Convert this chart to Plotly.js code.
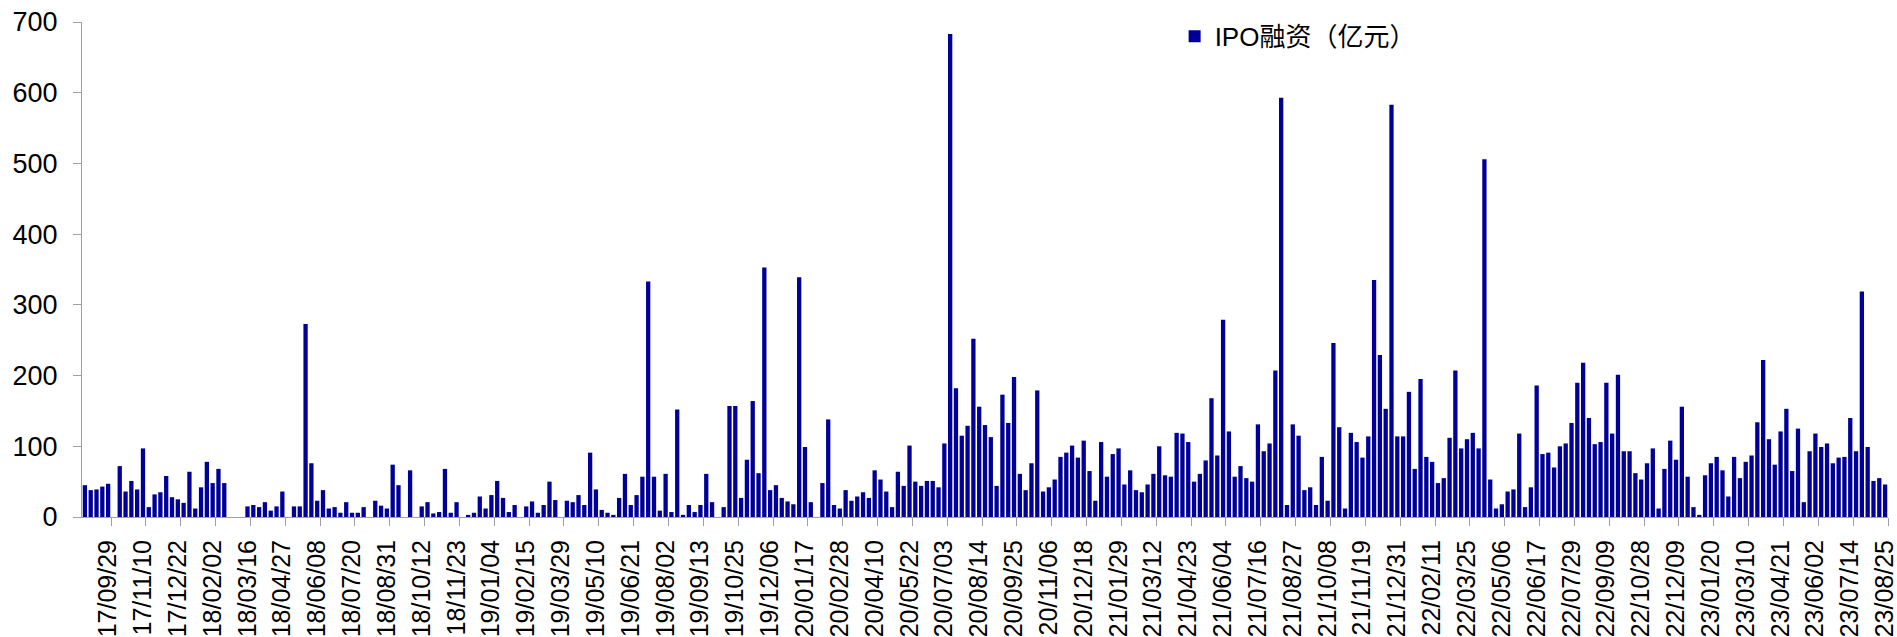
<!DOCTYPE html>
<html>
<head>
<meta charset="utf-8">
<script src="https://cdn.plot.ly/plotly-3.0.1.min.js"></script>
<style>
  html, body { margin: 0; padding: 0; background: #fff; }
  #chart { width: 1897px; height: 637px; }
</style>
</head>
<body>
<div id="chart"></div>
<script>
// Weekly categories (week-ending Fridays)
const weeks2017 = ['17/09/01','17/09/08','17/09/15','17/09/22','17/09/29','17/10/06','17/10/13','17/10/20','17/10/27','17/11/03','17/11/10','17/11/17','17/11/24','17/12/01','17/12/08','17/12/15','17/12/22','17/12/29'];
const weeks2018 = ['18/01/05','18/01/12','18/01/19','18/01/26','18/02/02','18/02/09','18/02/16','18/02/23','18/03/02','18/03/09','18/03/16','18/03/23','18/03/30','18/04/06','18/04/13','18/04/20','18/04/27','18/05/04','18/05/11','18/05/18','18/05/25','18/06/01','18/06/08','18/06/15','18/06/22','18/06/29','18/07/06','18/07/13','18/07/20','18/07/27','18/08/03','18/08/10','18/08/17','18/08/24','18/08/31','18/09/07','18/09/14','18/09/21','18/09/28','18/10/05','18/10/12','18/10/19','18/10/26','18/11/02','18/11/09','18/11/16','18/11/23','18/11/30','18/12/07','18/12/14','18/12/21','18/12/28'];
const weeks2019 = ['19/01/04','19/01/11','19/01/18','19/01/25','19/02/01','19/02/08','19/02/15','19/02/22','19/03/01','19/03/08','19/03/15','19/03/22','19/03/29','19/04/05','19/04/12','19/04/19','19/04/26','19/05/03','19/05/10','19/05/17','19/05/24','19/05/31','19/06/07','19/06/14','19/06/21','19/06/28','19/07/05','19/07/12','19/07/19','19/07/26','19/08/02','19/08/09','19/08/16','19/08/23','19/08/30','19/09/06','19/09/13','19/09/20','19/09/27','19/10/04','19/10/11','19/10/18','19/10/25','19/11/01','19/11/08','19/11/15','19/11/22','19/11/29','19/12/06','19/12/13','19/12/20','19/12/27'];
const weeks2020 = ['20/01/03','20/01/10','20/01/17','20/01/24','20/01/31','20/02/07','20/02/14','20/02/21','20/02/28','20/03/06','20/03/13','20/03/20','20/03/27','20/04/03','20/04/10','20/04/17','20/04/24','20/05/01','20/05/08','20/05/15','20/05/22','20/05/29','20/06/05','20/06/12','20/06/19','20/06/26','20/07/03','20/07/10','20/07/17','20/07/24','20/07/31','20/08/07','20/08/14','20/08/21','20/08/28','20/09/04','20/09/11','20/09/18','20/09/25','20/10/02','20/10/09','20/10/16','20/10/23','20/10/30','20/11/06','20/11/13','20/11/20','20/11/27','20/12/04','20/12/11','20/12/18','20/12/25'];
const weeks2021 = ['21/01/01','21/01/08','21/01/15','21/01/22','21/01/29','21/02/05','21/02/12','21/02/19','21/02/26','21/03/05','21/03/12','21/03/19','21/03/26','21/04/02','21/04/09','21/04/16','21/04/23','21/04/30','21/05/07','21/05/14','21/05/21','21/05/28','21/06/04','21/06/11','21/06/18','21/06/25','21/07/02','21/07/09','21/07/16','21/07/23','21/07/30','21/08/06','21/08/13','21/08/20','21/08/27','21/09/03','21/09/10','21/09/17','21/09/24','21/10/01','21/10/08','21/10/15','21/10/22','21/10/29','21/11/05','21/11/12','21/11/19','21/11/26','21/12/03','21/12/10','21/12/17','21/12/24','21/12/31'];
const weeks2022 = ['22/01/07','22/01/14','22/01/21','22/01/28','22/02/04','22/02/11','22/02/18','22/02/25','22/03/04','22/03/11','22/03/18','22/03/25','22/04/01','22/04/08','22/04/15','22/04/22','22/04/29','22/05/06','22/05/13','22/05/20','22/05/27','22/06/03','22/06/10','22/06/17','22/06/24','22/07/01','22/07/08','22/07/15','22/07/22','22/07/29','22/08/05','22/08/12','22/08/19','22/08/26','22/09/02','22/09/09','22/09/16','22/09/23','22/09/30','22/10/14','22/10/21','22/10/28','22/11/04','22/11/11','22/11/18','22/11/25','22/12/02','22/12/09','22/12/16','22/12/23','22/12/30'];
const weeks2023 = ['23/01/06','23/01/13','23/01/20','23/02/03','23/02/10','23/02/17','23/02/24','23/03/03','23/03/10','23/03/17','23/03/24','23/03/31','23/04/07','23/04/14','23/04/21','23/04/28','23/05/05','23/05/12','23/05/19','23/05/26','23/06/02','23/06/09','23/06/16','23/06/23','23/06/30','23/07/07','23/07/14','23/07/21','23/07/28','23/08/04','23/08/11','23/08/18','23/08/25'];

// IPO financing (100 million yuan), per week
const ipo2017 = [45,38,39,43,47,0,72,36,51,39,97,14,32,35,58,28,25,20];
const ipo2018 = [64,12,42,78,48,68,48,0,0,0,15,17,14,21,9,15,36,0,15,15,273,76,23,38,12,14,6,21,6,6,14,0,23,16,12,74,45,0,66,0,15,21,5,7,68,6,21,0,3,6,29,12];
const ipo2019 = [31,51,27,7,17,0,15,22,6,17,50,24,0,23,21,31,17,91,39,10,6,3,27,61,17,31,57,333,57,9,61,7,152,3,17,7,17,61,21,0,14,157,157,27,81,164,62,353,38,45,27,22];
const ipo2020 = [18,339,99,21,0,48,138,17,12,38,23,29,35,27,66,53,36,14,64,44,101,50,44,51,51,42,104,683,182,115,129,252,156,130,113,44,173,133,198,61,38,76,179,36,42,53,85,91,101,84,108,65];
const ipo2021 = [23,106,57,89,97,46,66,38,35,46,61,100,59,57,119,118,106,50,61,80,168,87,279,121,57,72,55,50,131,93,104,207,593,17,131,115,38,42,17,85,23,246,127,12,119,106,84,114,335,229,153,583,114];
const ipo2022 = [114,177,68,195,85,78,48,55,112,207,97,110,119,97,506,53,12,18,36,39,118,14,42,186,89,91,70,100,104,133,190,218,140,103,106,190,118,201,93,93,62,53,76,97,12,68,108,81,156,57,14];
const ipo2023 = [3,59,76,85,66,29,85,55,78,87,134,222,110,74,121,153,65,125,21,93,118,99,104,76,84,85,140,93,319,99,51,55,46];

// Labelled weeks on the category axis
const tickLabels = ['17/09/29','17/11/10','17/12/22','18/02/02','18/03/16','18/04/27','18/06/08','18/07/20','18/08/31','18/10/12','18/11/23','19/01/04','19/02/15','19/03/29','19/05/10','19/06/21','19/08/02','19/09/13','19/10/25','19/12/06','20/01/17','20/02/28','20/04/10','20/05/22','20/07/03','20/08/14','20/09/25','20/11/06','20/12/18','21/01/29','21/03/12','21/04/23','21/06/04','21/07/16','21/08/27','21/10/08','21/11/19','21/12/31','22/02/11','22/03/25','22/05/06','22/06/17','22/07/29','22/09/09','22/10/28','22/12/09','23/01/20','23/03/10','23/04/21','23/06/02','23/07/14','23/08/25'];

const seriesName = 'IPO融资（亿元）';

const weeks = [].concat(weeks2017, weeks2018, weeks2019, weeks2020, weeks2021, weeks2022, weeks2023);
const ipo = [].concat(ipo2017, ipo2018, ipo2019, ipo2020, ipo2021, ipo2022, ipo2023);

// Excel-style: tick marks sit on the category boundary after each labelled week
const tickPos = tickLabels.map(l => weeks.indexOf(l) + 0.5);

const BLUE = '#000099';
const AXIS = '#a0a0a0';
const FONT = 'Liberation Sans, Arial, Noto Sans CJK SC, sans-serif';

const trace = {
  type: 'bar',
  x: weeks,
  y: ipo,
  name: seriesName,
  marker: { color: BLUE, line: { width: 0 } },
  hovertemplate: '%{x}: %{y}<extra></extra>'
};

const layout = {
  width: 1897,
  height: 637,
  margin: { l: 82, r: 9, t: 22, b: 120, pad: 0 },
  paper_bgcolor: '#ffffff',
  plot_bgcolor: '#ffffff',
  bargap: 0.26,
  showlegend: true,
  legend: {
    x: 0.605, xanchor: 'left',
    y: 0.971, yanchor: 'middle',
    bgcolor: 'rgba(0,0,0,0)',
    borderwidth: 0,
    font: { family: FONT, size: 26, color: '#000000' }
  },
  xaxis: {
    type: 'category',
    range: [-0.5, weeks.length - 0.5],
    tickmode: 'array',
    tickvals: tickPos,
    ticktext: tickLabels,
    tickangle: -90,
    ticklabelshift: -3,
    ticklabelstandoff: 4,
    ticks: 'outside',
    ticklen: 8,
    tickwidth: 1,
    tickcolor: AXIS,
    showline: true,
    linecolor: AXIS,
    linewidth: 1,
    showgrid: false,
    zeroline: false,
    automargin: false,
    tickfont: { family: FONT, size: 25, color: '#000000' }
  },
  yaxis: {
    range: [0, 700],
    tickmode: 'linear',
    tick0: 0,
    dtick: 100,
    ticks: 'outside',
    ticklen: 8,
    tickwidth: 1,
    tickcolor: AXIS,
    showline: true,
    linecolor: AXIS,
    linewidth: 1,
    showgrid: false,
    zeroline: false,
    automargin: false,
    ticklabelstandoff: 10,
    tickfont: { family: FONT, size: 27, color: '#000000' }
  }
};

Plotly.newPlot('chart', [trace], layout, { displayModeBar: false, responsive: false });
</script>
</body>
</html>
